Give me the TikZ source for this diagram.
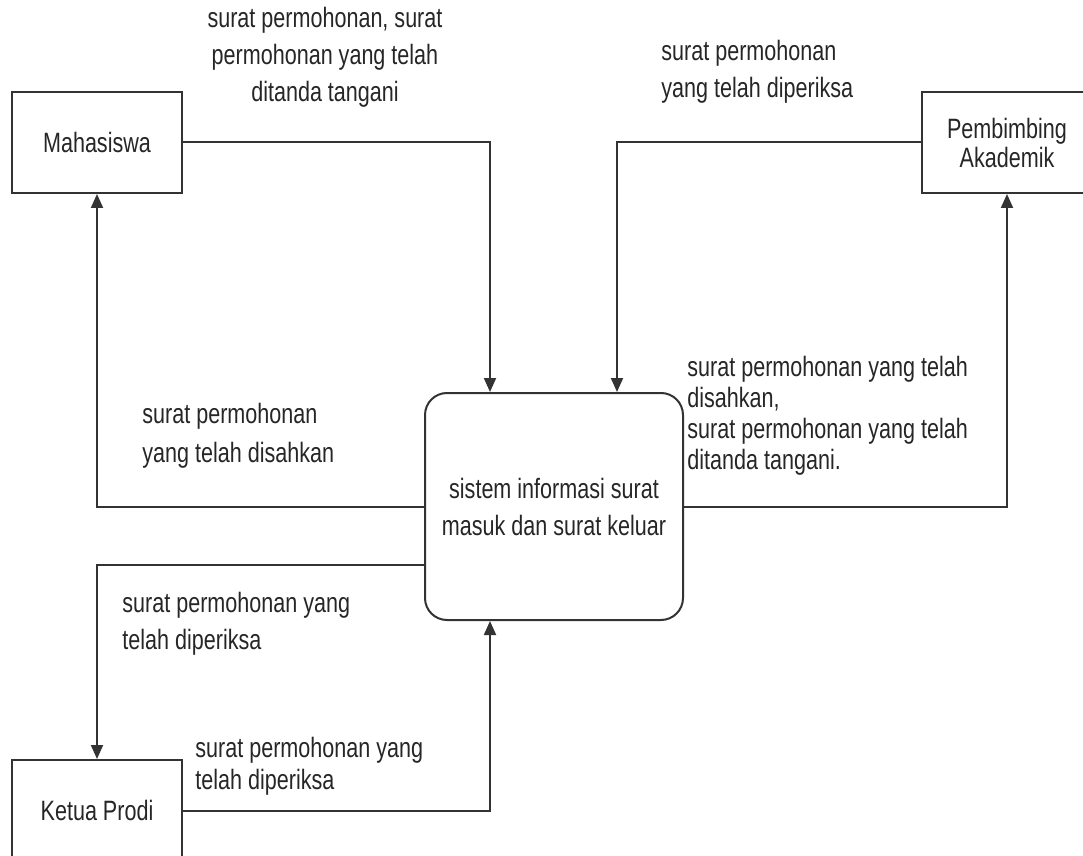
\documentclass[tikz,border=0pt]{standalone}
\usepackage{fontspec}
\setmainfont{Liberation Sans}[FakeStretch=0.77]
\usetikzlibrary{arrows.meta,positioning}

\begin{document}
\begin{tikzpicture}[x=0.5pt,y=-0.5pt,
	every node/.style={text=black!85, font=\fontsize{14}{18.5}\selectfont},
	entitas/.style={draw=black!80, line width=1pt, minimum width=85pt, minimum height=50.5pt, align=center},
	proses/.style={draw=black!80, line width=1pt, rounded corners=11pt, minimum width=129pt, minimum height=113.5pt, align=center},
	ket/.style={inner sep=0pt, align=left, anchor=north west},
	alur/.style={draw=black!80, line width=1pt, -{Triangle[length=7pt,width=6pt]}}]
			\clip (0,0) rectangle (1083,856);
			\node[entitas] (mhs) at (97,142.5) {Mahasiswa};
			\node[entitas, font=\fontsize{14}{14.5}\selectfont] (pa) at (1007,142.5) {Pembimbing\\Akademik};
			\node[entitas] (kp) at (97,810.5) {Ketua Prodi};
			\node[proses] (sis) at (554,506.5) {sistem informasi surat\\masuk dan surat keluar};
			\draw[alur] (mhs.east) -| ([xshift=-32pt]sis.north);
			\draw[alur] (pa.west) -| ([xshift=31.5pt]sis.north);
			\draw[alur] (sis.west) -| (mhs.south);
			\draw[alur] (sis.east) -| (pa.south);
			\draw[alur] ([yshift=-29.25pt]sis.west) -| (kp.north);
			\draw[alur] (kp.east) -| ([xshift=-32pt]sis.south);
			\node[ket, anchor=north, align=center] (k1) at (325,7) {surat permohonan, surat\\permohonan yang telah\\ditanda tangani};
			\node[ket] (k2) at (661,40) {surat permohonan\\yang telah diperiksa};
			\node[ket, font=\fontsize{14}{15.5}\selectfont] (k3) at (687,356) {surat permohonan yang telah\\disahkan,\\surat permohonan yang telah\\ditanda tangani.};
			\node[ket, font=\fontsize{14}{19.5}\selectfont] (k4) at (142,403) {surat permohonan\\yang telah disahkan};
			\node[ket] (k5) at (122,592) {surat permohonan yang\\telah diperiksa};
			\node[ket, font=\fontsize{14}{16}\selectfont] (k6) at (195,737) {surat permohonan yang\\telah diperiksa};
\end{tikzpicture}
\end{document}
